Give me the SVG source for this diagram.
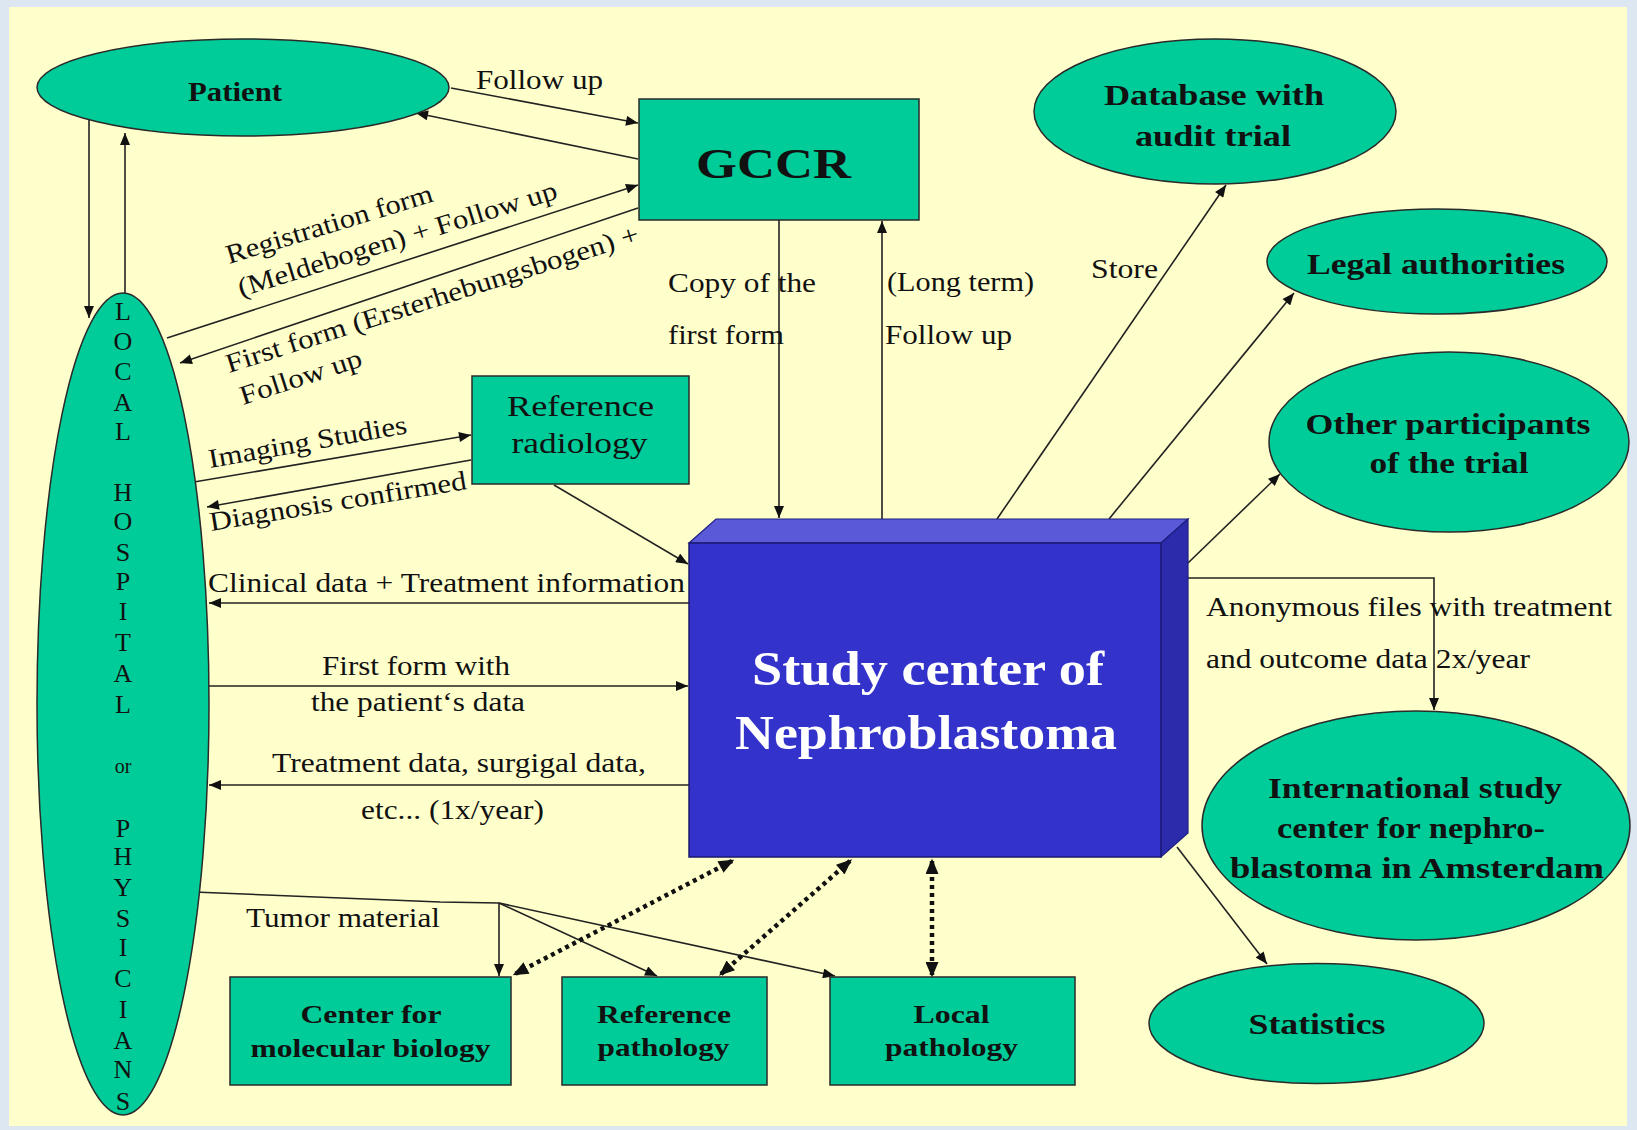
<svg xmlns="http://www.w3.org/2000/svg" width="1637" height="1130" viewBox="0 0 1637 1130">
<style>
.t{font-family:"Liberation Serif","Times New Roman",serif;fill:#111}
.b{font-weight:bold}
.w{fill:#ffffff}
.node{fill:#00CC99;stroke:#2a2a2a;stroke-width:1.5}
.c{stroke:#222;stroke-width:1.6;fill:none}
.d{stroke:#111;stroke-width:4.5;stroke-dasharray:4 4;fill:none}
.lbl{font-size:27px}
.hl{font-size:26px}
</style>
<defs>
<marker id="ah" viewBox="0 0 12 10" refX="12" refY="5" markerWidth="13" markerHeight="10" orient="auto-start-reverse" markerUnits="userSpaceOnUse"><path d="M0,0 L12,5 L0,10 z" fill="#111"/></marker>
<marker id="ahd" viewBox="0 0 12 10" refX="10" refY="5" markerWidth="16" markerHeight="13" orient="auto-start-reverse" markerUnits="userSpaceOnUse"><path d="M0,0 L12,5 L0,10 z" fill="#111"/></marker>
</defs>
<rect x="0" y="0" width="1637" height="1130" fill="#dce7f1"/>
<rect x="9" y="7" width="1618" height="1119" fill="#FFFFCC"/>

<g id="connectors">
<path class="c" d="M451,88 L638,123" marker-end="url(#ah)"/>
<path class="c" d="M638,159 L416,113" marker-end="url(#ah)"/>
<path class="c" d="M167,338 L638,185" marker-end="url(#ah)"/>
<path class="c" d="M638,208 L180,363" marker-end="url(#ah)"/>
<path class="c" d="M89,120 L89,318" marker-end="url(#ah)"/>
<path class="c" d="M125,293 L125,133" marker-end="url(#ah)"/>
<path class="c" d="M194,482 L471,435" marker-end="url(#ah)"/>
<path class="c" d="M471,460 L207,507" marker-end="url(#ah)"/>
<path class="c" d="M554,485 L688,564" marker-end="url(#ah)"/>
<path class="c" d="M779,220 L779,518" marker-end="url(#ah)"/>
<path class="c" d="M882,519 L882,221" marker-end="url(#ah)"/>
<path class="c" d="M997,519 L1226,185" marker-end="url(#ah)"/>
<path class="c" d="M1109,519 L1294,293" marker-end="url(#ah)"/>
<path class="c" d="M1188,563 L1280,474" marker-end="url(#ah)"/>
<path class="c" d="M1188,578 L1434,578 L1434,710" marker-end="url(#ah)"/>
<path class="c" d="M1177,847 L1267,964" marker-end="url(#ah)"/>
<path class="c" d="M689,603 L209,603" marker-end="url(#ah)"/>
<path class="c" d="M209,686 L688,686" marker-end="url(#ah)"/>
<path class="c" d="M689,785 L209,785" marker-end="url(#ah)"/>
<path class="c" d="M194,892 L440,902 L499,903"/>
<path class="c" d="M499,903 L499,976" marker-end="url(#ah)"/>
<path class="c" d="M499,903 L657,976" marker-end="url(#ah)"/>
<path class="c" d="M499,903 L835,976" marker-end="url(#ah)"/>
<path class="d" d="M732,861 L515,974" marker-start="url(#ahd)" marker-end="url(#ahd)"/>
<path class="d" d="M850,861 L721,974" marker-start="url(#ahd)" marker-end="url(#ahd)"/>
<path class="d" d="M932,861 L932,975" marker-start="url(#ahd)" marker-end="url(#ahd)"/>
</g>

<g id="labels">
<text class="t lbl" x="476" y="89" textLength="127" lengthAdjust="spacingAndGlyphs">Follow up</text>
<text class="t lbl" transform="translate(229,264) rotate(-17)" textLength="215" lengthAdjust="spacingAndGlyphs">Registration form</text>
<text class="t lbl" transform="translate(241,297) rotate(-17.3)" textLength="333" lengthAdjust="spacingAndGlyphs">(Meldebogen) + Follow up</text>
<text class="t lbl" transform="translate(229,373) rotate(-17.7)" textLength="432" lengthAdjust="spacingAndGlyphs">First form (Ersterhebungsbogen) +</text>
<text class="t lbl" transform="translate(243,405) rotate(-18)" textLength="127" lengthAdjust="spacingAndGlyphs">Follow up</text>
<text class="t lbl" transform="translate(210,468) rotate(-10)" textLength="201" lengthAdjust="spacingAndGlyphs">Imaging Studies</text>
<text class="t lbl" transform="translate(211,531) rotate(-9.3)" textLength="260" lengthAdjust="spacingAndGlyphs">Diagnosis confirmed</text>
<text class="t lbl" x="668" y="292" textLength="148" lengthAdjust="spacingAndGlyphs">Copy of the</text>
<text class="t lbl" x="668" y="344" textLength="116" lengthAdjust="spacingAndGlyphs">first form</text>
<text class="t lbl" x="887" y="291" textLength="147" lengthAdjust="spacingAndGlyphs">(Long term)</text>
<text class="t lbl" x="885" y="344" textLength="127" lengthAdjust="spacingAndGlyphs">Follow up</text>
<text class="t lbl" x="1091" y="278" textLength="67" lengthAdjust="spacingAndGlyphs">Store</text>
<text class="t lbl" x="1206" y="616" textLength="406" lengthAdjust="spacingAndGlyphs">Anonymous files with treatment</text>
<text class="t lbl" x="1206" y="668" textLength="324" lengthAdjust="spacingAndGlyphs">and outcome data 2x/year</text>
<text class="t lbl" x="208" y="592" textLength="477" lengthAdjust="spacingAndGlyphs">Clinical data + Treatment information</text>
<text class="t lbl" x="322" y="675" textLength="188" lengthAdjust="spacingAndGlyphs">First form with</text>
<text class="t lbl" x="311" y="711" textLength="214" lengthAdjust="spacingAndGlyphs">the patient‘s data</text>
<text class="t lbl" x="272" y="772" textLength="374" lengthAdjust="spacingAndGlyphs">Treatment data, surgigal data,</text>
<text class="t lbl" x="361" y="819" textLength="183" lengthAdjust="spacingAndGlyphs">etc... (1x/year)</text>
<text class="t lbl" x="246" y="927" textLength="194" lengthAdjust="spacingAndGlyphs">Tumor material</text>
</g>

<g id="patient">
<ellipse class="node" cx="243" cy="87.5" rx="206" ry="48.5"/>
<text class="t b" x="235" y="101" font-size="28" text-anchor="middle" textLength="94" lengthAdjust="spacingAndGlyphs">Patient</text>
</g>

<g id="gccr">
<rect class="node" x="639" y="99" width="280" height="121"/>
<text class="t b" x="773.5" y="178" font-size="43" text-anchor="middle" textLength="155" lengthAdjust="spacingAndGlyphs">GCCR</text>
</g>

<g id="database">
<ellipse class="node" cx="1215" cy="111.5" rx="181" ry="72.5"/>
<text class="t b" x="1214" y="105" font-size="29" text-anchor="middle" textLength="220" lengthAdjust="spacingAndGlyphs">Database with</text>
<text class="t b" x="1213" y="146" font-size="29" text-anchor="middle" textLength="156" lengthAdjust="spacingAndGlyphs">audit trial</text>
</g>

<g id="legal">
<ellipse class="node" cx="1437" cy="261.5" rx="170" ry="52.5"/>
<text class="t b" x="1436" y="274" font-size="29" text-anchor="middle" textLength="258" lengthAdjust="spacingAndGlyphs">Legal authorities</text>
</g>

<g id="other">
<ellipse class="node" cx="1449" cy="442" rx="180" ry="90"/>
<text class="t b" x="1448" y="434" font-size="29" text-anchor="middle" textLength="285" lengthAdjust="spacingAndGlyphs">Other participants</text>
<text class="t b" x="1449" y="473" font-size="29" text-anchor="middle" textLength="159" lengthAdjust="spacingAndGlyphs">of the trial</text>
</g>

<g id="international">
<ellipse class="node" cx="1416" cy="825.5" rx="214" ry="114.5"/>
<text class="t b" x="1415" y="798" font-size="30" text-anchor="middle" textLength="294" lengthAdjust="spacingAndGlyphs">International study</text>
<text class="t b" x="1411" y="838" font-size="30" text-anchor="middle" textLength="268" lengthAdjust="spacingAndGlyphs">center for nephro-</text>
<text class="t b" x="1417" y="878" font-size="30" text-anchor="middle" textLength="374" lengthAdjust="spacingAndGlyphs">blastoma in Amsterdam</text>
</g>

<g id="statistics">
<ellipse class="node" cx="1316.5" cy="1023.5" rx="167.5" ry="60"/>
<text class="t b" x="1317" y="1034" font-size="29" text-anchor="middle" textLength="137" lengthAdjust="spacingAndGlyphs">Statistics</text>
</g>

<g id="radiology">
<rect class="node" x="472" y="376" width="217" height="108"/>
<text class="t" x="580.5" y="416" font-size="29" text-anchor="middle" textLength="147" lengthAdjust="spacingAndGlyphs">Reference</text>
<text class="t" x="579.5" y="453" font-size="29" text-anchor="middle" textLength="136" lengthAdjust="spacingAndGlyphs">radiology</text>
</g>

<g id="hospital">
<ellipse class="node" cx="123" cy="704" rx="86" ry="411"/>
<g class="t hl" text-anchor="middle">
<text x="123" y="320">L</text>
<text x="123" y="350">O</text>
<text x="123" y="380">C</text>
<text x="123" y="411">A</text>
<text x="123" y="440">L</text>
<text x="123" y="501">H</text>
<text x="123" y="530">O</text>
<text x="123" y="561">S</text>
<text x="123" y="590">P</text>
<text x="123" y="620">I</text>
<text x="123" y="651">T</text>
<text x="123" y="682">A</text>
<text x="123" y="713">L</text>
<text x="123" y="773" font-size="20">or</text>
<text x="123" y="837">P</text>
<text x="123" y="865">H</text>
<text x="123" y="896">Y</text>
<text x="123" y="927">S</text>
<text x="123" y="956">I</text>
<text x="123" y="987">C</text>
<text x="123" y="1018">I</text>
<text x="123" y="1049">A</text>
<text x="123" y="1078">N</text>
<text x="123" y="1110">S</text>
</g>
</g>

<g id="study-center">
<polygon points="689,543 716,519 1188,519 1161,543" fill="#5a5ad8" stroke="#1e1e80" stroke-width="1.2"/>
<polygon points="1161,543 1188,519 1188,833 1161,857" fill="#2b2bac" stroke="#1e1e80" stroke-width="1.2"/>
<rect x="689" y="543" width="472" height="314" fill="#3333CC" stroke="#1a1a70" stroke-width="1.5"/>
<text class="t b w" x="928" y="685" font-size="48" text-anchor="middle" textLength="352" lengthAdjust="spacingAndGlyphs">Study center of</text>
<text class="t b w" x="926" y="749" font-size="48" text-anchor="middle" textLength="382" lengthAdjust="spacingAndGlyphs">Nephroblastoma</text>
</g>

<g id="molecular">
<rect class="node" x="230" y="977" width="281" height="108"/>
<text class="t b" x="371" y="1023" font-size="26" text-anchor="middle" textLength="141" lengthAdjust="spacingAndGlyphs">Center for</text>
<text class="t b" x="370.5" y="1057" font-size="26" text-anchor="middle" textLength="240" lengthAdjust="spacingAndGlyphs">molecular biology</text>
</g>

<g id="ref-pathology">
<rect class="node" x="562" y="977" width="205" height="108"/>
<text class="t b" x="664" y="1023" font-size="26" text-anchor="middle" textLength="134" lengthAdjust="spacingAndGlyphs">Reference</text>
<text class="t b" x="663.5" y="1056" font-size="26" text-anchor="middle" textLength="132" lengthAdjust="spacingAndGlyphs">pathology</text>
</g>

<g id="local-pathology">
<rect class="node" x="830" y="977" width="245" height="108"/>
<text class="t b" x="951.5" y="1023" font-size="26" text-anchor="middle" textLength="76" lengthAdjust="spacingAndGlyphs">Local</text>
<text class="t b" x="951.5" y="1056" font-size="26" text-anchor="middle" textLength="133" lengthAdjust="spacingAndGlyphs">pathology</text>
</g>
</svg>
